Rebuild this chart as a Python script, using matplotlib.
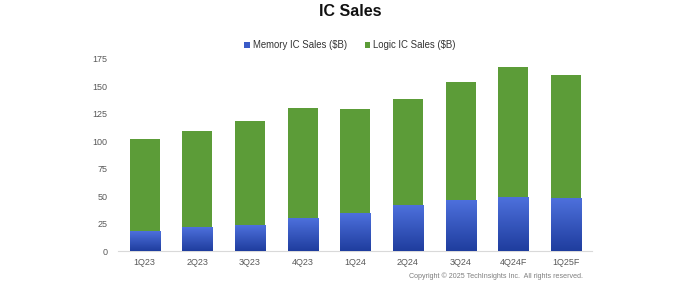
import numpy as np
import matplotlib
matplotlib.use('Agg')
import matplotlib.pyplot as plt
from matplotlib.colors import LinearSegmentedColormap
from matplotlib.patches import Patch

# ---------------------------------------------------
# datos
# ---------------------------------------------------
QUARTERS = ['1Q23', '2Q23', '3Q23', '4Q23', '1Q24', '2Q24', '3Q24', '4Q24F', '1Q25F']
MEMORY = [18, 21, 23, 30, 34, 41, 46, 49, 48]
LOGIC = [84, 88, 95.5, 100, 95, 98, 108, 119, 112.5]
Y_TICKS = [0, 25, 50, 75, 100, 125, 150, 175]
# ---------------------------------------------------

GREEN = '#5c9c38'
BLUE_TOP = '#4d70dc'
BLUE_BOTTOM = '#1f3d9e'
TEXT_GRAY = '#595959'


def main():
    plt.rcParams['font.family'] = ['Liberation Sans', 'DejaVu Sans']
    fig = plt.figure(figsize=(7, 2.85), dpi=100)
    ax = fig.add_axes([0.169, 0.119, 0.677, 0.674])

    x = np.arange(len(QUARTERS))
    width = 0.57

    mem_bars = ax.bar(x, MEMORY, width, color=BLUE_TOP, zorder=2)
    ax.bar(x, LOGIC, width, bottom=MEMORY, color=GREEN, zorder=2)

    # degradado en las barras de memoria
    cmap = LinearSegmentedColormap.from_list('mem', [BLUE_BOTTOM, BLUE_TOP])
    grad = np.linspace(0, 1, 100).reshape(-1, 1)
    for bar in mem_bars:
        x0 = bar.get_x()
        ax.imshow(grad, extent=[x0, x0 + bar.get_width(), 0, bar.get_height()],
                  origin='lower', aspect='auto', cmap=cmap, zorder=3)

    ax.set_xlim(-0.5, len(QUARTERS) - 0.5)
    ax.set_ylim(0, 175)
    ax.set_yticks(Y_TICKS)
    ax.set_xticks(x)
    ax.set_xticklabels(QUARTERS)
    ax.tick_params(axis='both', length=0, labelsize=6.5, colors=TEXT_GRAY)
    ax.tick_params(axis='y', pad=8)
    ax.tick_params(axis='x', pad=5)
    for side in ['top', 'right', 'left']:
        ax.spines[side].set_visible(False)
    ax.spines['bottom'].set_color('#d9d9d9')
    ax.spines['bottom'].set_linewidth(0.8)

    fig.text(0.5, 0.958, 'IC Sales', ha='center', va='center',
             fontsize=11.5, fontweight='bold', color='#111111')

    handles = [Patch(facecolor='#3a5bc8', label='Memory IC Sales ($B)'),
               Patch(facecolor=GREEN, label='Logic IC Sales ($B)')]
    fig.legend(handles=handles, loc='center', bbox_to_anchor=(0.5, 0.842), ncol=2,
               frameon=False, fontsize=6.9, handlelength=0.55, handleheight=0.55,
               handletextpad=0.3, columnspacing=1.9, labelcolor='#333333')

    fig.text(0.833, 0.032, 'Copyright \u00a9 2025 TechInsights Inc.  All rights reserved.',
             ha='right', va='center', fontsize=5.1, color='#7f7f7f')

    fig.savefig('out.png', dpi=100)


if __name__ == '__main__':
    main()
